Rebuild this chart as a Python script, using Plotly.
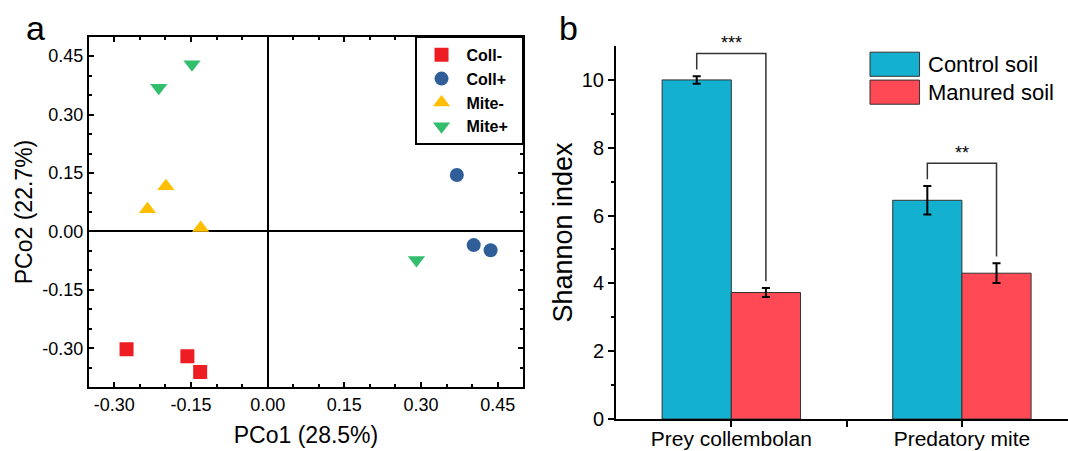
import plotly.graph_objects as go

# ---------------- Data: panel a (PCoA) ----------------
groups = ["Coll-", "Coll+", "Mite-", "Mite+"]
coll_minus_x = [-0.276, -0.157, -0.132]
coll_minus_y = [-0.302, -0.320, -0.361]
coll_plus_x = [0.370, 0.403, 0.436]
coll_plus_y = [0.145, -0.035, -0.048]
mite_minus_x = [-0.199, -0.235, -0.131]
mite_minus_y = [0.116, 0.057, 0.009]
mite_plus_x = [-0.148, -0.213, 0.291]
mite_plus_y = [0.429, 0.369, -0.073]

pco_ticks = [-0.30, -0.15, 0.00, 0.15, 0.30, 0.45]
pco_ticktext = ["-0.30", "-0.15", "0.00", "0.15", "0.30", "0.45"]

# ---------------- Data: panel b (Shannon) ----------------
categories = ["Prey collembolan", "Predatory mite"]
control_mean = [10.0, 6.45]
control_err = [0.11, 0.42]
manured_mean = [3.73, 4.30]
manured_err = [0.13, 0.29]
signif = ["***", "**"]

# ---------------- Styles ----------------
FONT = "Arial, Liberation Sans, sans-serif"
c_red, c_blue, c_yellow, c_green = "#EE1D23", "#2F5E99", "#FFBF00", "#33BE6E"
c_control, c_manured = "#13B1CF", "#FF4A55"

fig = go.Figure()

scatter_specs = [
    (groups[0], coll_minus_x, coll_minus_y, "square", c_red, 14),
    (groups[1], coll_plus_x, coll_plus_y, "circle", c_blue, 14),
    (groups[2], mite_minus_x, mite_minus_y, "triangle-up", c_yellow, 15),
    (groups[3], mite_plus_x, mite_plus_y, "triangle-down", c_green, 15),
]
for name, xs, ys, sym, col, sz in scatter_specs:
    fig.add_trace(go.Scatter(
        x=xs, y=ys, mode="markers", name=name + "\u00a0\u00a0",
        marker=dict(symbol=sym, color=col, size=sz, line=dict(width=0)),
        xaxis="x", yaxis="y", legend="legend",
    ))

xnum = list(range(len(categories)))
fig.add_trace(go.Bar(
    x=xnum, y=control_mean, name="Control soil", xaxis="x2", yaxis="y2",
    marker=dict(color=c_control, line=dict(color="#333333", width=1)),
    error_y=dict(type="data", array=control_err, color="black", thickness=2, width=4),
    showlegend=False,
))
fig.add_trace(go.Bar(
    x=xnum, y=manured_mean, name="Manured soil", xaxis="x2", yaxis="y2",
    marker=dict(color=c_manured, line=dict(color="#333333", width=1)),
    error_y=dict(type="data", array=manured_err, color="black", thickness=2, width=4),
    showlegend=False,
))

# ---------------- Significance brackets (derived from data) ----------------
half = 0.15
shapes = []
annotations = []
for i, s in enumerate(signif):
    top_c = control_mean[i] + control_err[i] + 0.2
    top_m = manured_mean[i] + manured_err[i] + 0.2
    top = max(top_c, top_m) + 0.47
    xl, xr = xnum[i] - half, xnum[i] + half
    shapes.append(dict(
        type="path", xref="x2", yref="y2",
        path=f"M {xl},{top_c} L {xl},{top} L {xr},{top} L {xr},{top_m}",
        line=dict(color="#333333", width=1.5),
    ))
    annotations.append(dict(
        x=xnum[i], y=top - 0.05, xref="x2", yref="y2", text=s, showarrow=False,
        yanchor="bottom", font=dict(size=18, family=FONT, color="black"),
    ))

# ---------------- Custom legend for panel b ----------------
leg_items = [("Control soil", c_control), ("Manured soil", c_manured)]
leg_y_top = [0.8843, 0.8224]
leg_h = 0.0535
for (lab, col), yt in zip(leg_items, leg_y_top):
    shapes.append(dict(
        type="rect", xref="paper", yref="paper",
        x0=0.8146, x1=0.861, y0=yt - leg_h, y1=yt,
        fillcolor=col, line=dict(color="#333333", width=1),
    ))
    annotations.append(dict(
        x=0.8672, y=yt - leg_h / 2, xref="paper", yref="paper", text=lab,
        showarrow=False, xanchor="left", yanchor="middle",
        font=dict(size=22, family=FONT, color="black"),
    ))

annotations.append(dict(x=0.0225, y=0.985, xref="paper", yref="paper", text="a",
                        showarrow=False, xanchor="left", yanchor="top",
                        font=dict(size=34, family=FONT, color="black")))
annotations.append(dict(x=0.522, y=0.985, xref="paper", yref="paper", text="b",
                        showarrow=False, xanchor="left", yanchor="top",
                        font=dict(size=34, family=FONT, color="black")))

axis_common_a = dict(
    showline=True, linecolor="black", linewidth=1.5, mirror="ticks",
    ticks="inside", ticklen=6, tickwidth=1.5, tickcolor="black",
    showgrid=False, zeroline=True, zerolinecolor="black", zerolinewidth=1.5,
    tickfont=dict(size=18, family=FONT, color="black"), automargin=False,
    minor=dict(ticks="inside", ticklen=4, tickwidth=1.5, tickcolor="black", showgrid=False),
)

fig.update_layout(
    width=1068, height=451, autosize=False,
    margin=dict(l=0, r=0, t=0, b=0, pad=0),
    paper_bgcolor="white", plot_bgcolor="white",
    font=dict(family=FONT, color="black"),
    barmode="group", bargap=0.4, bargroupgap=0,
    xaxis=dict(
        domain=[0.08305, 0.49], range=[-0.35, 0.50], anchor="y",
        tickvals=pco_ticks, ticktext=pco_ticktext,
        title=dict(text="PCo1 (28.5%)", font=dict(size=23, family=FONT), standoff=13),
        **axis_common_a,
    ),
    yaxis=dict(
        domain=[0.14124, 0.91863], range=[-0.40, 0.50], anchor="x",
        tickvals=pco_ticks, ticktext=pco_ticktext,
        title=dict(text="PCo2 (22.7%)", font=dict(size=23, family=FONT), standoff=3),
        **axis_common_a,
    ),
    xaxis2=dict(
        domain=[0.57678, 1.0], range=[-0.5, 1.46], anchor="y2",
        tickvals=[0, 0.5, 1], ticktext=[categories[0], "", categories[1]],
        showline=True, linecolor="black", linewidth=2, ticks="outside", ticklen=6,
        tickwidth=1.5, tickcolor="black", showgrid=False, zeroline=False,
        tickfont=dict(size=21, family=FONT, color="black"), automargin=False,
        ticklabelstandoff=-6,
    ),
    yaxis2=dict(
        domain=[0.07095, 0.898], range=[0, 11], anchor="x2",
        tickvals=[0, 2, 4, 6, 8, 10],
        showline=True, linecolor="black", linewidth=2, ticks="outside", ticklen=6,
        tickwidth=1.5, tickcolor="black", showgrid=False, zeroline=False,
        tickfont=dict(size=20, family=FONT, color="black"), automargin=False,
        minor=dict(ticks="outside", ticklen=3, tickwidth=1.5, tickcolor="black",
                   tickvals=[1, 3, 5, 7, 9], showgrid=False),
        title=dict(text="Shannon index", font=dict(size=27, family=FONT), standoff=1),
    ),
    legend=dict(
        x=0.49, xanchor="right", y=0.91863, yanchor="top",
        bordercolor="black", borderwidth=1.2, bgcolor="white",
        font=dict(size=16, family=FONT, color="black", weight="bold"),
        itemsizing="trace", itemwidth=40,
    ),
    shapes=shapes,
    annotations=annotations,
)

fig.write_html("out.html", config={"displayModeBar": False},
               post_script="document.body.style.margin='0px';")
